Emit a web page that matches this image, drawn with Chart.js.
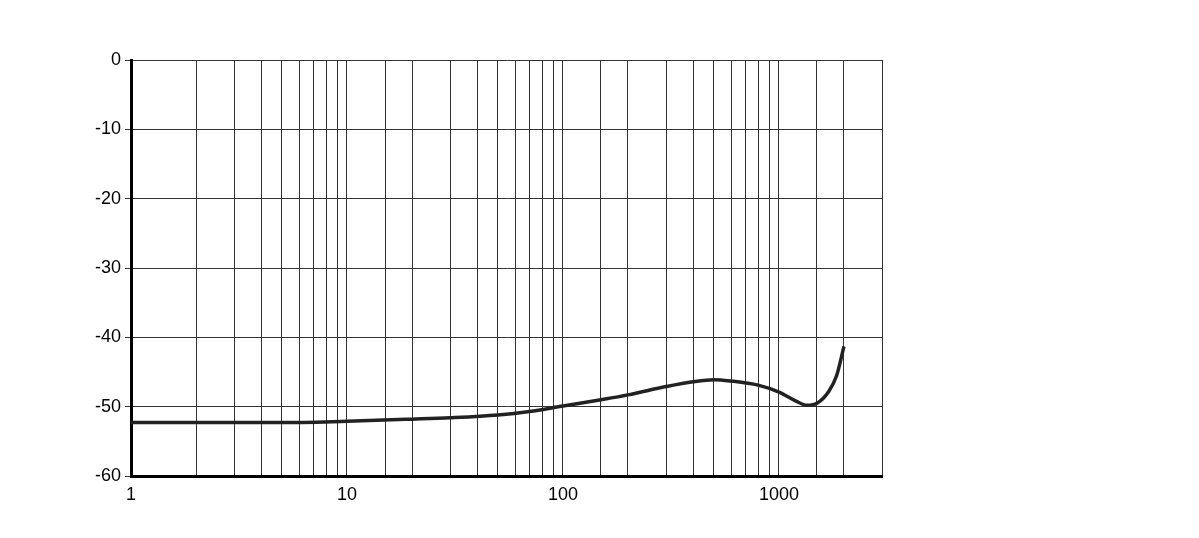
<!DOCTYPE html>
<html><head><style>html,body{margin:0;padding:0;background:#fff}</style>
<script src="https://cdn.jsdelivr.net/npm/chart.js@4"></script></head>
<body><canvas id="c" width="1199" height="538" style="width:1199px;height:538px;display:block"></canvas>
<script>
const freqs = [1, 2, 5, 10, 20, 30, 50, 70, 100, 150, 200, 300, 400, 500, 600, 800, 1000, 1200, 1350, 1500, 1700, 1850, 2000];
const levels = [-52.3, -52.3, -52.3, -52.1, -51.8, -51.6, -51.2, -50.7, -49.9, -49.0, -48.3, -47.1, -46.4, -46.1, -46.3, -46.9, -47.9, -49.2, -49.8, -49.5, -47.8, -45.5, -41.3];
const xLabels = [1, 10, 100, 1000];
new Chart(document.getElementById('c'), {
  type: 'line',
  data: { datasets: [{ data: freqs.map((f, i) => ({x: f, y: levels[i]})), borderColor: '#222', borderWidth: 3.5, pointRadius: 0, cubicInterpolationMode: 'monotone' }] },
  options: {
    responsive: false, animation: false, maintainAspectRatio: false, devicePixelRatio: 1,
    layout: { padding: { top: 60, right: 317, left: 0, bottom: 0 } },
    plugins: { legend: { display: false }, tooltip: { enabled: false } },
    scales: {
      x: { type: 'logarithmic', min: 1, max: 3000,
        afterFit: s => { s.height = 62; },
        border: { color: '#000', width: 3 },
        grid: { color: '#333', lineWidth: 1, drawTicks: false },
        ticks: { autoSkip: false, maxRotation: 0, color: '#000', padding: 8, font: { family: 'Liberation Sans', size: 18 },
          callback: v => xLabels.includes(v) ? String(v) : '' } },
      y: { min: -60, max: 0,
        afterFit: s => { s.width = 131; },
        border: { color: '#000', width: 3 },
        grid: { color: '#333', lineWidth: 1, tickLength: 6 },
        ticks: { stepSize: 10, color: '#000', padding: 4, font: { family: 'Liberation Sans', size: 18 } } }
    }
  }
});
</script></body></html>
